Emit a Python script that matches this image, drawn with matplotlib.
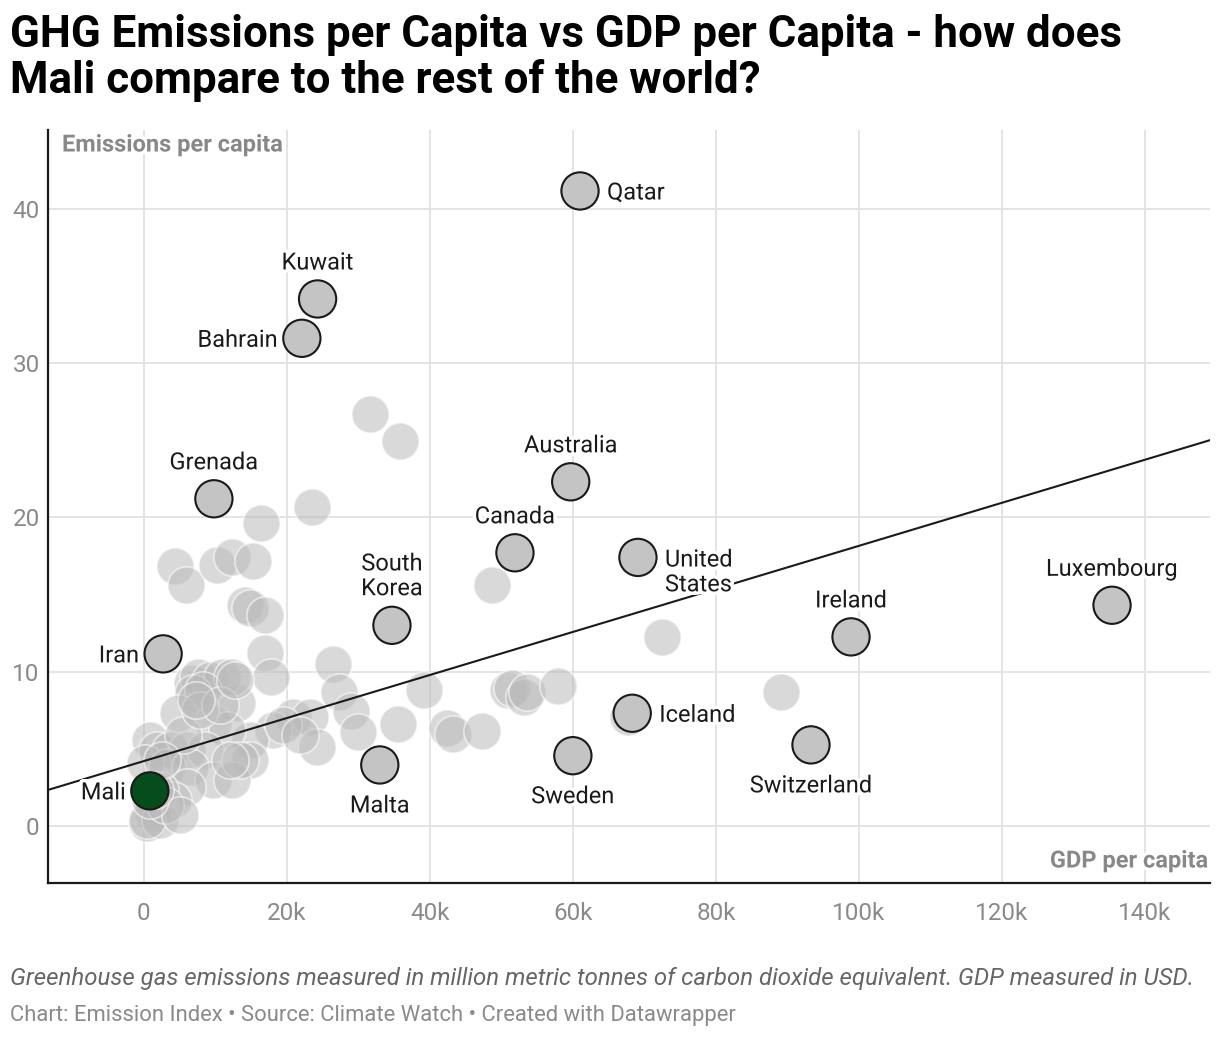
import matplotlib.pyplot as plt
import matplotlib.patheffects as pe
from matplotlib.ticker import FuncFormatter, FixedLocator

plt.rcParams.update({
    "font.family": "Roboto",
    "font.size": 14,
})

# Highlighted countries: GDP per capita (USD), emissions per capita
hl_names = ["Qatar", "Kuwait", "Bahrain", "Grenada", "Australia", "Canada",
            "United\nStates", "South\nKorea", "Iran", "Ireland", "Luxembourg",
            "Iceland", "Switzerland", "Sweden", "Malta", "Mali"]
hl_gdp = [61000, 24300, 22100, 9800, 59700, 51900, 69100, 34700, 2700,
          98900, 135400, 68300, 93300, 60000, 33000, 840]
hl_emis = [41.15, 34.15, 31.6, 21.2, 22.3, 17.7, 17.4, 13.0, 11.15,
           12.25, 14.3, 7.3, 5.25, 4.55, 3.95, 2.27]

# Rest of the world
other_gdp = [31600, 35800, 23500, 16400, 4300, 5900, 10200, 12400, 15200, 14100,
             14800, 16900, 16900, 17800, 26400, 27300, 29000, 29900, 35500, 39200,
             42400, 43200, 47300, 48700, 50900, 51500, 53100, 53600, 57900, 67700,
             72400, 89100, 20800, 23200, 24200, 18000, 14800, 14800, 13000, 6700,
             7600, 9200, 10900, 12300, 6900, 8300, 4800, 9700, 11600, 800,
             1800, 3600, 6000, 8500, 200, 3200, 6400, 9700, 12400, 6000,
             4100, 1300, 400, 2200, 500, 5500, 7800, 10600, 13400, 2200,
             2900, 5000, 12700, 7300, 800, 1500, 2500, 12000, 19400, 21800]
other_emis = [26.7, 24.95, 20.67, 19.64, 16.85, 15.62, 16.92, 17.43, 17.17, 14.32,
              14.13, 13.67, 11.21, 9.66, 10.5, 8.68, 7.45, 6.09, 6.61, 8.81,
              6.35, 5.96, 6.16, 15.62, 8.81, 8.94, 8.36, 8.68, 9.07, 7.06,
              12.25, 8.68, 7.06, 7.06, 5.12, 6.22, 5.57, 4.28, 7.97, 9.27,
              9.66, 9.46, 9.66, 9.66, 8.62, 8.81, 7.32, 6.68, 6.22, 5.57,
              4.93, 4.93, 4.93, 4.93, 4.08, 3.82, 3.82, 2.98, 2.98, 2.53,
              1.69, 0.84, 0.19, 0.39, 0.4, 5.9, 7.52, 7.84, 4.28, 2.33,
              1.36, 0.71, 9.46, 8.17, 1.69, 2.33, 4.28, 4.28, 6.55, 5.9]

# Trend line
trend_intercept = 4.2
trend_slope = 0.1395 / 1000

x_ticks = [0, 20000, 40000, 60000, 80000, 100000, 120000, 140000]
y_ticks = [0, 10, 20, 30, 40]

# label placement: (ha, va, dx, dy) in pixels
placement = {
    "above": ("center", "center", 0, 36),
    "below": ("center", "center", 0, -41),
    "right": ("left", "center", 27, -2),
    "left": ("right", "center", -24, -2),
}
label_side = ["right", "above", "left", "above", "above", "above", "right", "above",
              "left", "above", "above", "right", "below", "below", "below", "left"]

fig = plt.figure(figsize=(12.2, 10.38), dpi=100)
ax = fig.add_axes([48 / 1220, 1 - 883 / 1038, (1210 - 48) / 1220, (883 - 130) / 1038])

ax.set_xlim(-13400, 149100)
ax.set_ylim(-3.7, 45.1)

ax.xaxis.set_major_locator(FixedLocator(x_ticks))
ax.yaxis.set_major_locator(FixedLocator(y_ticks))
ax.xaxis.set_major_formatter(FuncFormatter(lambda v, p: "0" if v == 0 else f"{int(v / 1000)}k"))
ax.grid(True, color="#e2e2e2", linewidth=1.3)
ax.set_axisbelow(True)
ax.tick_params(length=0, labelsize=17.5, colors="#8a8a8a", pad=14)
ax.tick_params(axis="y", pad=6)

for side in ["top", "right"]:
    ax.spines[side].set_visible(False)
for side in ["left", "bottom"]:
    ax.spines[side].set_color("#1a1a1a")
    ax.spines[side].set_linewidth(1.6)

ax.scatter(other_gdp, other_emis, s=720, color="#bababa", alpha=0.55,
           edgecolors="white", linewidths=1.3, zorder=2)

ax.axline((0, trend_intercept), slope=trend_slope, color="#1a1a1a", linewidth=1.5, zorder=3)

hl_colors = ["#c4c4c4"] * (len(hl_names) - 1) + ["#064d1c"]
ax.scatter(hl_gdp, hl_emis, s=720, color=hl_colors, edgecolors="#1a1a1a",
           linewidths=1.5, zorder=4)

halo = [pe.withStroke(linewidth=5, foreground="white")]
for name, gx, gy, side in zip(hl_names, hl_gdp, hl_emis, label_side):
    ha, va, dx, dy = placement[side]
    if "\n" in name:
        dy += 13 if side == "above" else -13
    ax.annotate(name, (gx, gy), xytext=(dx, dy), textcoords="offset pixels",
                ha=ha, va=va, fontsize=17, color="#1a1a1a", zorder=5,
                linespacing=1.1, path_effects=halo)

ax.text(62 / 1220, 1 - 145 / 1038, "Emissions per capita", transform=fig.transFigure,
        ha="left", va="center", fontsize=17, fontweight="bold", color="#888888",
        path_effects=halo, zorder=6)
ax.text(1208 / 1220, 1 - 861 / 1038, "GDP per capita", transform=fig.transFigure,
        ha="right", va="center", fontsize=17, fontweight="bold", color="#888888",
        path_effects=halo, zorder=6)

fig.text(10 / 1220, 1 - 14 / 1038,
         "GHG Emissions per Capita vs GDP per Capita - how does\nMali compare to the rest of the world?",
         ha="left", va="top", fontsize=31.6, fontweight="bold", color="#000000", linespacing=1.08)

fig.text(10 / 1220, 1 - 979 / 1038,
         "Greenhouse gas emissions measured in million metric tonnes of carbon dioxide equivalent. GDP measured in USD.",
         ha="left", va="center", fontsize=17.3, style="italic", color="#666666")
fig.text(10 / 1220, 1 - 1016 / 1038,
         "Chart: Emission Index \u2022 Source: Climate Watch \u2022 Created with Datawrapper",
         ha="left", va="center", fontsize=15.8, color="#8a8a8a")

fig.savefig("out.png", dpi=100)
